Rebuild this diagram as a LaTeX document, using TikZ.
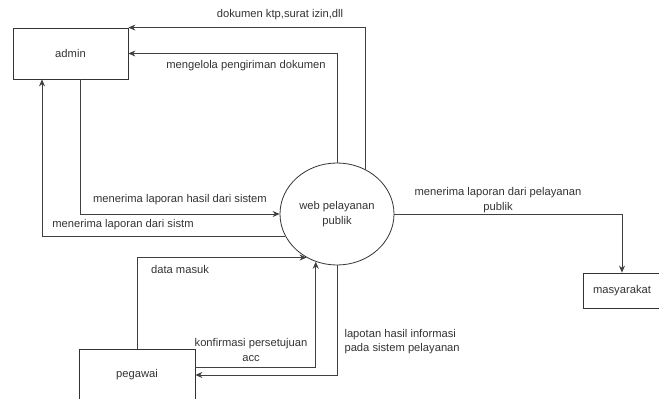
\documentclass[tikz,border=0pt]{standalone}
\usepackage{fontspec}
\setmainfont{Liberation Sans}
\usetikzlibrary{shapes.geometric,arrows.meta}

\begin{document}
\begin{tikzpicture}[x=1pt, y=-1pt,
    font=\fontsize{11.2}{14.5}\selectfont, text=black!80,
    entity/.style={rectangle, draw=black!80, line width=0.8pt},
    flow/.style={draw=black!75, line width=0.8pt, -{Stealth[length=7pt,width=6pt]}},
    plain/.style={draw=black!75, line width=0.8pt}]
    \useasboundingbox (0,0) rectangle (659,399);

    % entitas luar dan proses
    \node[entity, minimum width=115pt, minimum height=51pt] (admin) at (70.5, 53.5) {admin};
    \node[entity, minimum width=116pt, minimum height=52pt] (pegawai) at (137, 375) {pegawai};
    \node[entity, minimum width=78pt, minimum height=35pt] (masyarakat) at (622, 290.5) {masyarakat};
    \node[ellipse, draw=black!80, line width=0.8pt, minimum width=114pt, minimum height=102pt,
          inner sep=0pt, align=center] (web) at (337, 214) {web pelayanan\\publik};

    % aliran data
    \draw[flow] (web.57) |- (admin.north east);
    \draw[flow] (web.north) |- (admin.east);
    \draw[flow] ([xshift=9.5pt]admin.south) |- (web.west);
    \draw[flow] (web.203) -| ([xshift=-28.5pt]admin.south);
    \draw[flow] (pegawai.north) |- (web.235);
    \draw[flow] ([yshift=8pt]pegawai.east) -| (web.246);
    \draw[flow] (web.south) |- (pegawai.east);
    \draw[flow] (web.east) -| (masyarakat.north);

    % label aliran
    \node (l_dok) at (280, 15) {dokumen ktp,surat izin,dll};
    \node (l_kelola) at (246, 66) {mengelola pengiriman dokumen};
    \node (l_hasil) at (180, 200) {menerima laporan hasil dari sistem};
    \node (l_sistm) at (123, 225) {menerima laporan dari sistm};
    \node (l_data) at (180, 269) {data masuk};
    \node[align=center] (l_acc) at (251, 350) {konfirmasi persetujuan\\acc};
    \node[align=left, anchor=west] (l_lapotan) at (341, 341.5) {lapotan hasil informasi\\pada sistem pelayanan};
    \node[align=center] (l_publik) at (498, 200) {menerima laporan dari pelayanan\\publik};

\end{tikzpicture}
\end{document}
